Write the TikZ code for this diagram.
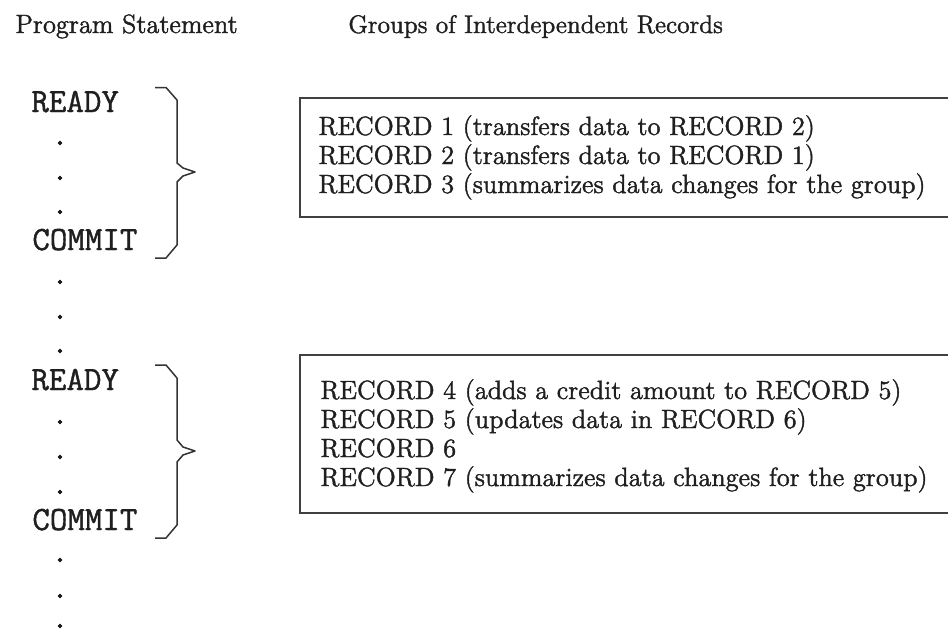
\documentclass[tikz,border=0pt]{standalone}
\usepackage{fontspec}
\newfontfamily\recserif{Latin Modern Roman}[FakeBold=1.5]
\newfontfamily\recmono{Latin Modern Mono}[FakeBold=1.2]
\newfontfamily\recdot{Latin Modern Mono}[FakeBold=2.5]
\begin{document}
\begin{tikzpicture}[x=0.5pt,y=-0.5pt,
  serif/.style={anchor=base west,inner sep=0pt,text=black!88,font=\recserif\fontsize{13.2}{15}\selectfont},
  stmt/.style={anchor=base west,inner sep=0pt,text=black!88,font=\recmono\fontsize{17}{19}\selectfont},
  dotn/.style={inner sep=0pt,text=black!90,font=\recdot\fontsize{16}{18}\selectfont},
  bracepath/.style={line width=0.75pt,draw=black!80,line join=round},
  recbox/.style={line width=0.8pt,draw=black!75}]
\useasboundingbox (0,0) rectangle (948,634);
% headers
\node[serif] (h1) at (15,33) {Program Statement};
\node[serif,font=\recserif\fontsize{12.7}{15}\selectfont] (h2) at (348,33) {Groups of Interdependent Records};
% program statements
\node[stmt] (r1) at (31,112) {READY};
\node[stmt] (c1) at (32,250) {COMMIT};
\node[stmt] (r2) at (31,390) {READY};
\node[stmt] (c2) at (32,530) {COMMIT};
\foreach \y [count=\i] in {143,178,212,282,317,351,422,457,492,560,596,626}
  \node[dotn] (d\i) at (60,\y) {.};
% braces
\draw[bracepath] (155,87.5) -- (166,87.5) -- (177,100) -- (177,163) -- (183,168) -- (195,172) -- (183,176) -- (177,182) -- (177,245) -- (166,258) -- (155,258);
\draw[bracepath] (155,365) -- (166,365) -- (177,378) -- (177,440) -- (183,447) -- (195,451) -- (183,455) -- (177,462) -- (177,525) -- (166,538) -- (155,538);
% boxes
\draw[recbox] (948,98) -- (300,98) -- (300,217) -- (948,217);
\draw[recbox] (948,355) -- (300,355) -- (300,513) -- (948,513);
% group 1
\node[serif] (g1a) at (318,135) {RECORD 1 (transfers data to RECORD 2)};
\node[serif] (g1b) at (318,164) {RECORD 2 (transfers data to RECORD 1)};
\node[serif] (g1c) at (318,193) {RECORD 3 (summarizes data changes for the group)};
% group 2
\node[serif] (g2a) at (320,399) {RECORD 4 (adds a credit amount to RECORD 5)};
\node[serif] (g2b) at (320,428) {RECORD 5 (updates data in RECORD 6)};
\node[serif] (g2c) at (320,457) {RECORD 6};
\node[serif] (g2d) at (320,486) {RECORD 7 (summarizes data changes for the group)};
\end{tikzpicture}
\end{document}
